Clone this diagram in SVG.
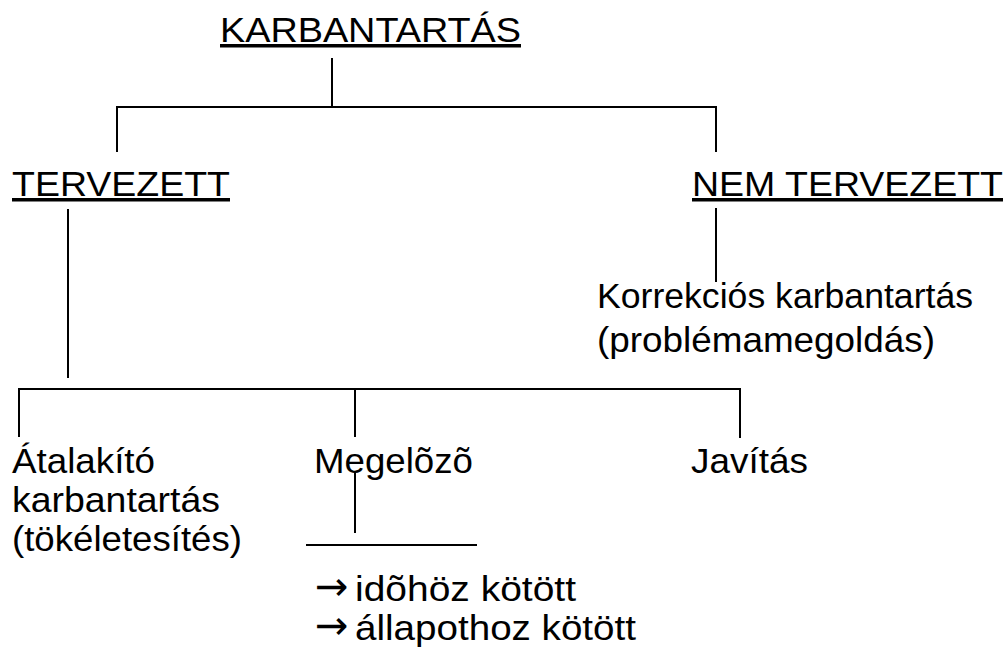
<svg xmlns="http://www.w3.org/2000/svg" width="1006" height="650" viewBox="0 0 1006 650">
<style>
text{font-family:"Liberation Sans",Arial,"DejaVu Sans",sans-serif;font-size:35px;fill:#000}
.u{text-decoration:underline}
.ar{font-family:"DejaVu Sans",sans-serif;font-size:40px}
.c line{stroke:#000;stroke-width:2}
</style>
<rect width="1006" height="650" fill="#fff"/>
<g id="n-karbantartas"><text class="u" x="220" y="42" textLength="301" lengthAdjust="spacingAndGlyphs">KARBANTARTÁS</text></g>
<g id="n-tervezett"><text class="u" x="12" y="196" textLength="218" lengthAdjust="spacingAndGlyphs">TERVEZETT</text></g>
<g id="n-nemtervezett"><text class="u" x="692" y="196" textLength="311" lengthAdjust="spacingAndGlyphs">NEM TERVEZETT</text></g>
<g id="n-korrekcios"><text x="597" y="308" textLength="376" lengthAdjust="spacingAndGlyphs">Korrekciós karbantartás</text><text x="597" y="352" textLength="338" lengthAdjust="spacingAndGlyphs">(problémamegoldás)</text></g>
<g id="n-atalakito"><text x="12" y="473" textLength="143" lengthAdjust="spacingAndGlyphs">Átalakító</text><text x="12" y="512" textLength="208" lengthAdjust="spacingAndGlyphs">karbantartás</text><text x="12" y="551" textLength="230" lengthAdjust="spacingAndGlyphs">(tökéletesítés)</text></g>
<g id="n-megelozo"><text x="314" y="473" textLength="159" lengthAdjust="spacingAndGlyphs">Megelõzõ</text></g>
<g id="n-javitas"><text x="691" y="473" textLength="117" lengthAdjust="spacingAndGlyphs">Javítás</text></g>
<g id="n-lista">
<text class="ar" x="315" y="600">→</text><text x="355" y="601" textLength="221" lengthAdjust="spacingAndGlyphs">idõhöz kötött</text>
<text class="ar" x="315" y="639">→</text><text x="355" y="640" textLength="281" lengthAdjust="spacingAndGlyphs">állapothoz kötött</text>
</g>
<g id="connectors" class="c">
<line x1="332" y1="58" x2="332" y2="107"/>
<line x1="116" y1="107" x2="717" y2="107"/>
<line x1="117" y1="107" x2="117" y2="152"/>
<line x1="716" y1="107" x2="716" y2="152"/>
<line x1="68" y1="209" x2="68" y2="378"/>
<line x1="716" y1="208" x2="716" y2="282"/>
<line x1="18" y1="389" x2="741" y2="389"/>
<line x1="19" y1="389" x2="19" y2="437"/>
<line x1="355" y1="389" x2="355" y2="437"/>
<line x1="740" y1="389" x2="740" y2="438"/>
<line x1="355" y1="473" x2="355" y2="533"/>
<line x1="306" y1="545" x2="477" y2="545"/>
</g>
</svg>
